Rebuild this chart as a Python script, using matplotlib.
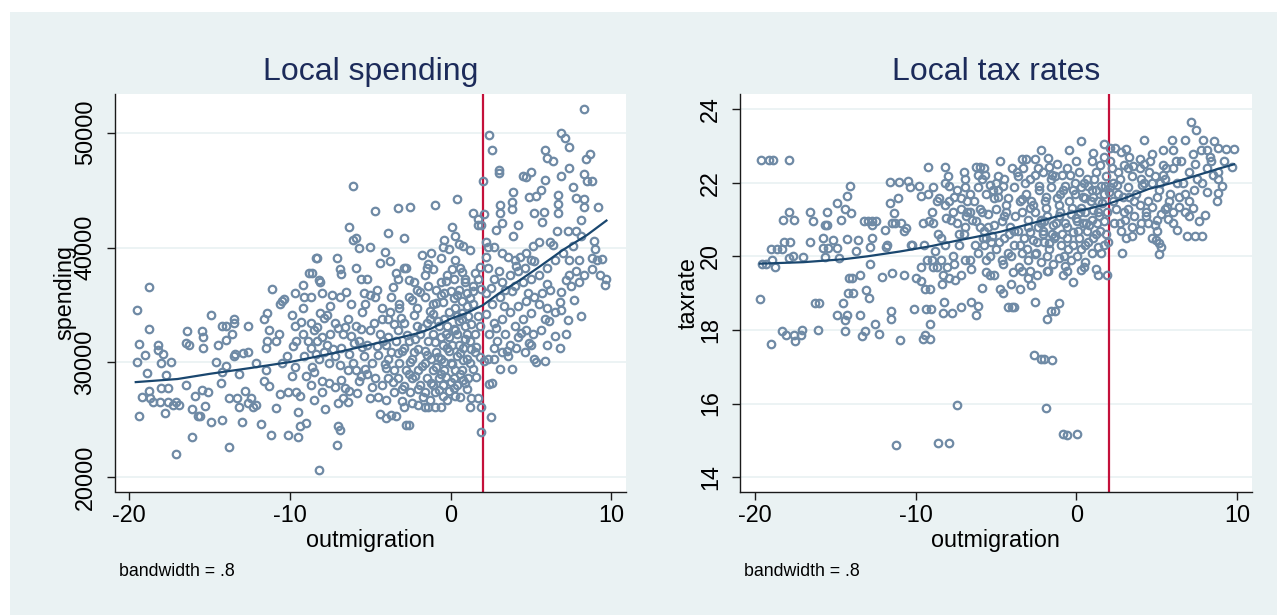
import numpy as np
import matplotlib
matplotlib.use("Agg")
import matplotlib.pyplot as plt
from matplotlib.patches import Rectangle

plt.rcParams['font.family'] = ['Liberation Sans', 'DejaVu Sans']

# ---------------------------------------------------------
# DATA
# ---------------------------------------------------------
# Local spending: (outmigration, spending)
spend_far_left = [
    (-19.5, 34570), (-18.8, 36560), (-19.4, 31600), (-19.5, 30030), (-19.0, 30640),
    (-18.9, 29040), (-18.8, 32910), (-18.2, 31470), (-18.2, 31120), (-17.9, 30740),
    (-18.0, 29940), (-17.7, 28920), (-17.4, 30030), (-19.2, 26990), (-18.8, 27540),
    (-18.7, 26900), (-18.5, 26580), (-18.0, 27760), (-17.6, 27760), (-18.1, 26580),
    (-17.6, 26580), (-17.3, 26330), (-17.8, 25620), (-19.4, 25300), (-17.1, 26580),
    (-16.9, 26330), (-17.1, 22010), (-16.5, 28020), (-16.4, 32720), (-16.5, 31700),
    (-16.3, 31540), (-16.1, 23540), (-16.1, 25940), (-15.9, 27060), (-15.7, 25360),
    (-15.6, 25300), (-15.5, 32720), (-15.4, 32180), (-15.4, 31280), (-15.5, 27600),
    (-15.3, 26170), (-15.1, 27380), (-14.9, 34090), (-14.9, 24820),
]
spend_mid_left = [
    (-14.5, 31470), (-14.6, 30030), (-14.3, 28240), (-14.2, 24980), (-14.2, 33140),
    (-14.0, 33200), (-14.0, 29680), (-14.2, 29140), (-14.0, 31920), (-13.8, 26900),
    (-13.8, 22650), (-13.5, 33780), (-13.5, 33450), (-13.5, 30580), (-13.4, 30740),
    (-13.6, 32500), (-13.3, 26900), (-13.2, 26100), (-13.0, 24820), (-13.2, 28980),
    (-12.9, 30800), (-12.6, 30900), (-12.6, 33200), (-12.8, 27540), (-12.6, 26420),
    (-12.4, 26900), (-12.3, 26100), (-12.1, 26330), (-12.1, 29940), (-11.8, 24660),
    (-11.6, 33780), (-11.5, 31220), (-11.4, 34260), (-11.3, 32810), (-11.4, 31860),
    (-11.5, 29300), (-11.6, 28340), (-11.3, 27960), (-11.1, 36400), (-11.2, 23640),
    (-10.9, 26010), (-10.9, 31860), (-10.7, 32500), (-10.6, 35050), (-10.5, 35370),
    (-10.4, 35530), (-10.6, 27220), (-10.5, 29940), (-10.2, 30580), (-10.1, 23700),
    (-9.9, 34090), (-10.1, 27380), (-9.9, 28820),
]
spend_mid = [
    (-9.7, 36010), (-9.7, 33140), (-9.5, 23540), (-9.5, 25720), (-9.6, 27380),
    (-9.4, 27060), (-9.2, 34730), (-9.2, 36750), (-9.1, 35690), (-9.0, 28820),
    (-9.0, 24760), (-9.4, 24500), (-8.8, 37770), (-8.6, 37770), (-8.7, 35690),
    (-8.4, 39110), (-8.3, 39110), (-8.2, 37200), (-8.1, 36970), (-8.0, 36010),
    (-8.2, 20600), (-8.0, 28340), (-7.8, 25940), (-7.7, 34090), (-7.5, 34890),
    (-7.2, 33450), (-7.1, 39050), (-7.1, 22810), (-7.0, 24440), (-6.9, 24120),
    (-6.9, 38090), (-6.8, 37680), (-6.7, 26900), (-6.4, 26580), (-6.3, 41830),
    (-6.1, 45380), (-6.1, 40650), (-5.9, 40810), (-5.7, 39940), (-5.6, 37290),
    (-5.4, 36010), (-5.0, 40070), (-6.1, 29940), (-5.9, 29300), (-5.7, 28340),
    (-6.3, 27540), (-8.7, 33450), (-8.5, 32810), (-8.3, 31860), (-8.0, 32180),
    (-7.7, 31540), (-7.5, 32500), (-8.7, 31220), (-9.1, 30580), (-8.2, 30260),
    (-7.6, 29940), (-7.2, 30580), (-6.8, 31220), (-6.7, 32500), (-6.4, 33780),
    (-6.2, 35050), (-5.9, 33140), (-5.7, 31860), (-5.4, 30580), (-6.4, 29300),
    (-6.8, 28500), (-7.2, 27860), (-7.6, 28180), (-8.0, 27380), (-8.5, 26740),
    (-8.7, 28020), (-8.5, 29140), (-6.9, 35690), (-5.9, 38250), (-5.2, 37290),
    (-5.3, 35050), (-5.0, 32810), (-5.2, 31540), (-4.9, 29940), (-5.2, 28980),
    (-4.9, 27860), (-5.0, 26900), (-9.6, 31860), (-9.7, 29620), (-9.2, 32500),
]
spend_core = [
    (-4.7, 43200), (-3.9, 41290), (-3.3, 43430), (-2.5, 43530), (-2.9, 40810),
    (-4.1, 39630), (-3.8, 38790), (-4.4, 38660), (-3.4, 37770), (-2.8, 38250),
    (-3.3, 37290), (-1.8, 39370), (-1.2, 39530), (-1.0, 43690), (-1.5, 38250),
    (-1.1, 38090), (-0.6, 39110), (-0.5, 40010), (-0.1, 39850), (0.1, 41770),
    (0.4, 44230), (0.3, 40970), (0.5, 40330), (0.8, 40170), (1.2, 39780),
    (0.3, 38890), (0.1, 38090), (0.6, 38250), (0.9, 37290), (-4.4, 25460),
    (-4.0, 25140), (-3.7, 25400), (-3.4, 25300), (-2.8, 24570), (-2.6, 24570),
    (-2.9, 26100), (-2.4, 26420), (-1.6, 26100), (-1.4, 26100), (-1.0, 26100),
    (-0.6, 26100), (-0.5, 27060), (-0.1, 27540), (0.2, 27760), (0.4, 28020),
    (0.9, 28180), (1.0, 27700), (1.2, 26100), (1.3, 26900), (1.7, 26900),
    (1.9, 23930), (-4.7, 35690), (-4.3, 34730), (-3.9, 33780), (-3.7, 35690),
    (-3.2, 35050), (-2.6, 35690), (-2.1, 34730), (-1.6, 35690), (-1.1, 35050),
    (-0.9, 36330), (-0.6, 36970), (-0.4, 36010), (-1.4, 36650), (-2.1, 36330),
    (-4.4, 32500), (-4.0, 31540), (-3.7, 30900), (-3.3, 32810), (-2.9, 33450),
    (-2.6, 31860), (-2.3, 30900), (-1.9, 32500), (-1.5, 33450), (-1.1, 32500),
    (-0.7, 33140), (-0.4, 33780), (-0.1, 34410), (0.3, 34730), (0.7, 35370),
    (1.0, 36010), (1.4, 36650), (1.7, 37290), (1.4, 35050), (0.7, 33780),
    (0.3, 32810), (-0.1, 32180), (-0.5, 31540), (-0.9, 30900), (-1.2, 30260),
    (-1.6, 29940), (-2.0, 29300), (-2.4, 28660), (-2.8, 29300), (-3.2, 29940),
    (-3.5, 29300), (-3.9, 28660), (-4.3, 28020), (-4.0, 26740), (-3.5, 27380),
    (-3.0, 27700), (-2.5, 27380), (-2.0, 27700), (-1.6, 27380), (-1.1, 28020),
    (-0.7, 28660), (-0.4, 29300), (0.0, 29940), (0.4, 30580), (0.8, 31220),
    (1.2, 31860), (1.5, 32500), (1.8, 33140), (1.5, 30900), (1.2, 29940),
    (0.7, 29300), (0.2, 28660), (-0.2, 31220), (-0.6, 30260), (-1.1, 29300),
    (-1.5, 28660), (-1.9, 28020), (-2.4, 30260), (-2.9, 31220), (-3.4, 31860),
    (-3.9, 30260), (0.4, 32500), (0.9, 33140), (0.5, 36330), (0.2, 37290),
    (-0.2, 37610), (1.7, 41930), (-0.4, 40650), (-1.4, 38570), (-2.3, 36970),
    (-2.9, 38250),
]
spend_dense = [
    (-8.9, 31900), (-8.4, 30700), (-7.9, 33900), (-7.3, 31200), (-6.9, 29800),
    (-6.6, 33100), (-6.0, 31700), (-5.6, 32900), (-5.3, 29400), (-5.8, 27300),
    (-4.8, 33400), (-4.5, 30600), (-4.2, 31900), (-4.0, 29500), (-3.8, 34400),
    (-3.6, 28300), (-3.3, 30800), (-3.1, 33900), (-2.9, 27900), (-2.7, 32400),
    (-2.5, 30000), (-2.3, 34100), (-2.2, 28800), (-2.0, 31200), (-1.8, 33000),
    (-1.7, 27000), (-1.5, 30600), (-1.3, 34500), (-1.2, 28200), (-1.0, 31800),
    (-0.9, 29600), (-0.8, 33600), (-0.7, 27600), (-0.6, 32200), (-0.5, 35300),
    (-0.4, 30000), (-0.3, 28700), (-0.2, 33200), (-0.1, 31000), (0.0, 36200),
    (0.1, 29900), (0.2, 32900), (0.3, 27100), (0.4, 35900), (0.5, 31500),
    (0.6, 29000), (0.7, 34300), (0.8, 30200), (0.9, 37000), (1.0, 32500),
    (1.1, 28600), (1.2, 35600), (1.3, 33300), (1.4, 29400), (1.5, 37800),
    (1.6, 31300), (1.7, 34000), (1.8, 30500), (1.9, 36400), (1.8, 38300),
    (2.2, 34200), (2.5, 36500), (2.8, 33000), (3.0, 38000), (3.3, 34900),
    (3.5, 31000), (3.8, 36200), (4.1, 38400), (4.4, 32600), (4.8, 36000),
    (5.2, 38800), (5.6, 32800), (6.0, 36800), (6.4, 40200), (6.8, 35300),
    (7.2, 37200), (7.7, 35400), (8.3, 37600), (8.9, 40600), (9.4, 39000),
    (-1.9, 36100), (-2.6, 37200), (-3.6, 36600), (-4.6, 36300), (-3.0, 26600),
    (-1.3, 26700), (0.6, 27000), (-4.5, 27000), (-6.3, 30700), (-7.0, 26500),
    (-1.1, 34200), (-0.6, 35900), (0.2, 35600), (1.0, 34900), (-2.4, 35400),
    (-3.2, 34700), (-0.3, 37100), (0.7, 37900), (-1.6, 37600), (-2.1, 33200),
    (-3.9, 32200), (-4.3, 33800), (-5.0, 35900), (-5.5, 34400), (-6.5, 36100),
    (-7.4, 35900), (-8.1, 34300), (-9.3, 33500), (-9.8, 31400), (-8.6, 29600),
]
spend_blob = [
    (-1.8, 29700), (-1.4, 31900), (-1.0, 27400), (-0.8, 30500), (-0.5, 28000),
    (-0.3, 32500), (0.0, 28300), (0.1, 31500), (0.3, 29300), (0.5, 33600),
    (0.6, 30800), (0.8, 28500), (1.0, 30300), (1.1, 34000), (1.3, 31200),
    (-2.6, 29000), (-2.2, 32000), (-3.0, 31000), (-3.5, 33300), (-4.1, 29900),
    (-4.6, 31400), (-5.5, 31300), (-6.2, 32300), (-7.0, 33000), (-7.9, 30900),
    (-8.3, 33100), (-6.6, 27800), (-5.6, 28800), (-4.7, 28600), (-3.3, 28600),
    (-1.6, 31000), (-0.6, 29000), (0.4, 34000), (1.6, 28700), (-0.2, 26700),
    (-2.0, 26300), (-1.3, 33800), (0.9, 32000), (-0.9, 35200), (1.4, 36200),
]
spend_right = [
    (2.0, 45760), (2.4, 49760), (2.6, 48480), (3.0, 46720), (3.0, 46500),
    (2.1, 42890), (1.7, 42500), (1.9, 41990), (1.4, 43050), (3.1, 43690),
    (3.1, 43050), (3.2, 42180), (2.8, 41540), (3.9, 44800), (3.8, 44000),
    (3.8, 43370), (4.2, 41930), (3.9, 41030), (4.5, 46240), (4.7, 46180),
    (5.0, 46560), (4.9, 44420), (5.2, 43050), (5.7, 42250), (5.3, 44490),
    (5.6, 45030), (5.8, 43140), (5.9, 48480), (6.0, 47780), (6.4, 47520),
    (5.9, 45920), (6.9, 49990), (7.1, 49500), (7.4, 48740), (7.4, 46950),
    (6.9, 46240), (7.6, 45280), (7.8, 44320), (8.3, 52090), (8.7, 48160),
    (8.4, 47750), (8.3, 46400), (8.5, 45760), (8.8, 45820), (8.3, 44260),
    (8.3, 43530), (9.2, 43530), (8.1, 42410), (7.8, 41450), (8.1, 40970),
    (6.7, 44580), (6.7, 43750), (6.7, 43050), (6.6, 41450), (6.2, 40490),
    (7.3, 41450), (2.2, 40490), (2.3, 40010), (2.7, 40010), (3.2, 39530),
    (3.6, 39210), (4.0, 38890), (4.3, 39210), (4.7, 39530), (5.1, 40170),
    (5.5, 40490), (5.0, 38890), (4.6, 38250), (4.2, 37930), (3.7, 37610),
    (3.2, 36970), (2.7, 37290), (2.3, 38250), (2.2, 36010), (2.6, 35050),
    (3.1, 35690), (3.4, 36330), (4.0, 36650), (4.5, 36970), (5.0, 37290),
    (5.5, 37610), (6.0, 38250), (6.5, 38890), (7.0, 39530), (7.4, 38890),
    (7.6, 40170), (8.0, 38890), (7.8, 37930), (7.4, 37610), (8.8, 39050),
    (9.0, 39850), (9.1, 38890), (8.8, 38090), (9.3, 37610), (9.7, 37230),
    (9.6, 36710), (8.0, 36970), (7.5, 36650), (6.9, 36170), (6.2, 36330),
    (5.7, 36010), (5.2, 35690), (4.7, 35370), (4.2, 34890), (3.7, 34410),
    (3.2, 33780), (2.7, 33450), (2.4, 32500), (2.9, 31860), (3.4, 32500),
    (4.0, 33140), (4.5, 33780), (5.0, 34260), (5.5, 35050), (6.0, 34730),
    (6.5, 34410), (6.9, 34570), (7.3, 33680), (8.1, 34030), (6.1, 33620),
    (5.9, 33780), (5.1, 32500), (4.7, 32810), (4.2, 32180), (3.7, 31540),
    (3.2, 30900), (2.7, 31220), (2.3, 30260), (2.1, 30100), (2.6, 28180),
    (2.4, 28120), (2.7, 30260), (3.1, 29460), (3.8, 29390), (3.6, 30580),
    (4.1, 31220), (4.6, 30900), (5.0, 31540), (4.9, 31700), (5.2, 30260),
    (5.3, 30000), (5.9, 30100), (6.0, 31540), (6.5, 32340), (6.8, 31280),
    (7.2, 32500), (2.5, 25210), (1.9, 26100), (2.2, 39210),
]

# lowess fit (bandwidth .8) of spending
spend_fit_x = [-19.6, -17, -15, -12.5, -10, -7.3, -4.5, -2, -1.2, 0, 1, 2, 3, 4.3, 5.5, 7, 8.5, 9.7]
spend_fit_y = [28280, 28550, 29000, 29500, 30030, 30800, 31700, 32550, 32950, 33800,
               34300, 34970, 36000, 37150, 38300, 39800, 41100, 42350]

# Local tax rates: (outmigration, taxrate)
tax_left = [
    (-19.64, 22.62), (-19.10, 22.62), (-18.85, 22.62), (-17.91, 22.62), (-19.66, 18.83),
    (-19.00, 17.61), (-19.56, 19.80), (-19.31, 19.78), (-18.75, 19.72), (-18.93, 19.90),
    (-19.00, 20.20), (-18.63, 20.20), (-18.29, 20.20), (-18.17, 20.38), (-17.79, 20.38),
    (-18.24, 20.98), (-17.89, 21.20), (-17.58, 20.98), (-17.91, 19.95), (-17.66, 20.00),
    (-17.03, 19.97), (-18.29, 17.96), (-18.04, 17.86), (-17.58, 17.86), (-17.53, 17.69),
    (-17.16, 17.86), (-17.10, 18.00), (-16.57, 21.20), (-16.40, 20.97), (-16.57, 20.38),
    (-16.27, 18.73), (-16.02, 18.73), (-16.07, 17.99), (-15.76, 20.50), (-15.64, 20.85),
    (-15.51, 20.85), (-15.51, 21.20), (-15.76, 20.22), (-15.46, 20.22), (-15.64, 19.98),
    (-15.13, 20.45), (-14.88, 21.44), (-14.88, 20.22), (-14.75, 19.95), (-14.62, 21.00),
    (-14.37, 21.29), (-14.88, 18.41), (-14.50, 18.73), (-14.37, 18.26), (-14.25, 18.41),
    (-14.37, 17.98), (-14.25, 20.47), (-14.07, 21.91), (-14.25, 21.64), (-14.00, 21.18),
    (-14.12, 19.40), (-13.94, 19.42), (-14.20, 19.00), (-13.87, 19.00), (-13.74, 20.15),
    (-13.61, 20.45), (-13.49, 19.50), (-13.44, 18.41), (-13.36, 17.83), (-13.16, 17.96),
    (-13.11, 19.08), (-12.93, 18.87), (-13.23, 20.97), (-12.98, 20.97), (-12.73, 20.97),
    (-12.48, 20.97), (-12.73, 20.50), (-12.73, 20.85), (-12.85, 19.78), (-12.85, 20.25),
    (-12.52, 18.16), (-12.27, 17.88), (-12.09, 19.45), (-11.89, 20.72), (-11.84, 20.25),
    (-11.77, 20.32), (-11.59, 21.46), (-11.59, 22.02), (-11.51, 18.31), (-11.51, 18.51),
    (-11.46, 19.55), (-11.46, 20.90), (-11.34, 21.17), (-11.26, 20.90), (-11.21, 14.87),
    (-11.08, 21.59), (-11.01, 22.02), (-10.96, 17.73), (-10.90, 20.90), (-10.75, 20.70),
    (-10.70, 19.50), (-10.58, 20.77), (-10.45, 22.04), (-10.37, 21.89), (-10.32, 20.30),
    (-10.20, 20.30), (-10.12, 18.58), (-9.99, 19.40),
]
tax_mid = [
    (-9.82, 21.91), (-9.69, 21.64), (-9.69, 19.32), (-9.56, 20.90), (-9.56, 17.76),
    (-9.44, 19.12), (-9.44, 17.86), (-9.36, 18.58), (-9.24, 22.42), (-9.24, 21.69),
    (-9.18, 20.97), (-9.13, 19.12), (-9.11, 17.76), (-9.11, 18.16), (-9.06, 18.58),
    (-8.98, 19.90), (-8.93, 19.70), (-8.68, 21.49), (-8.43, 20.50), (-8.37, 19.25),
    (-8.30, 18.46), (-8.22, 18.75), (-8.17, 22.42), (-8.12, 21.05), (-7.97, 22.19),
    (-7.92, 21.91), (-8.60, 14.92), (-7.92, 14.92), (-7.72, 18.46), (-7.46, 15.95),
    (-7.16, 18.61), (-6.91, 22.11), (-6.78, 21.20), (-6.53, 18.75), (-6.27, 18.41),
    (-6.15, 18.64), (-6.27, 22.44), (-6.02, 22.44), (-5.77, 22.41), (-5.90, 19.15),
    (-5.64, 19.58), (-5.39, 19.50), (-5.14, 19.50), (-4.76, 22.59), (-4.88, 22.19),
    (-4.76, 19.10), (-4.58, 19.00), (-4.25, 18.61), (-4.00, 18.61), (-3.87, 18.61),
    (-4.05, 19.25), (-3.92, 19.58), (-3.49, 19.10), (-3.37, 19.60), (-3.37, 22.64),
    (-3.11, 22.64), (-2.86, 19.60), (-2.81, 19.22), (-2.66, 17.31), (-2.60, 18.75),
    (-2.60, 22.64), (-2.23, 22.89), (-2.23, 17.21), (-2.02, 17.21), (-1.92, 15.89),
    (-1.85, 18.31), (-1.77, 22.67), (-1.59, 18.51), (-1.54, 17.19), (-1.34, 18.51),
    (-1.09, 18.73), (-0.83, 15.17), (-0.58, 15.14), (0.05, 15.17), (-0.20, 19.30),
    (0.30, 19.63), (-0.45, 22.89), (0.30, 23.14), (0.55, 19.85), (1.19, 19.65),
    (1.32, 19.50), (1.70, 23.04), (1.70, 22.71), (1.90, 19.50), (1.95, 20.38),
    (-7.41, 21.79), (-7.16, 21.59), (-6.91, 21.89), (-6.65, 21.69), (-6.40, 21.49),
    (-6.15, 21.89), (-5.90, 22.09), (-5.64, 21.69), (-5.39, 21.94), (-5.14, 21.59),
    (-4.88, 21.79), (-4.50, 22.09), (-4.25, 21.59), (-7.16, 21.29), (-6.65, 21.20),
    (-6.02, 21.29), (-5.51, 21.15), (-5.01, 21.29), (-4.38, 21.20), (-7.41, 20.90),
    (-6.91, 20.80), (-6.27, 20.95), (-5.77, 20.70), (-5.14, 20.85), (-4.63, 20.95),
    (-4.12, 20.80), (-7.92, 21.49), (-7.67, 21.20), (-8.17, 21.39), (-8.55, 21.59),
    (-8.93, 21.89), (-8.80, 20.15), (-8.43, 19.90), (-8.05, 19.70), (-7.67, 20.00),
    (-7.29, 20.30), (-6.91, 19.90), (-6.53, 19.65), (-6.15, 20.10), (-5.77, 20.30),
    (-5.39, 20.00), (-5.01, 20.20), (-4.63, 19.90), (-4.25, 20.10), (-3.87, 20.30),
    (-7.92, 19.40), (-7.54, 19.35), (-7.16, 19.50), (-8.68, 19.70), (-8.30, 19.50),
    (-9.31, 19.90), (-9.69, 19.70), (-5.64, 20.50), (-5.26, 20.55), (-4.50, 20.50),
]
tax_core = [
    (-3.87, 21.89), (-3.49, 21.49), (-3.11, 21.69), (-2.73, 21.39), (-2.35, 21.79),
    (-1.97, 21.49), (-1.59, 21.89), (-1.21, 21.59), (-0.83, 21.79), (-0.45, 21.49),
    (-0.08, 21.69), (0.30, 21.89), (-3.62, 22.19), (-2.86, 22.09), (-2.10, 22.29),
    (-1.34, 22.19), (-0.58, 22.39), (0.18, 22.29), (-1.72, 22.44), (-3.37, 21.20),
    (-2.99, 20.99), (-2.60, 21.20), (-2.23, 20.90), (-1.85, 21.10), (-1.47, 20.85),
    (-1.09, 21.10), (-0.71, 20.90), (-0.33, 21.15), (0.05, 20.95), (-3.62, 20.70),
    (-3.24, 20.50), (-2.86, 20.65), (-2.48, 20.40), (-2.10, 20.60), (-1.72, 20.35),
    (-1.34, 20.55), (-0.96, 20.30), (-0.58, 20.50), (-0.20, 20.30), (0.18, 20.50),
    (-3.37, 20.10), (-2.99, 19.90), (-2.60, 20.05), (-2.23, 19.85), (-1.85, 20.00),
    (-1.47, 19.80), (-1.09, 19.95), (-0.71, 19.75), (-0.33, 19.90), (0.05, 20.00),
    (-2.48, 19.50), (-1.85, 19.60), (-0.83, 19.50), (0.56, 21.59), (0.94, 21.79),
    (1.32, 21.49), (1.70, 21.69), (2.07, 21.89), (0.68, 22.09), (1.19, 22.29),
    (1.83, 22.19), (2.20, 22.39), (0.94, 22.59), (1.45, 22.49), (0.56, 21.20),
    (0.94, 20.99), (1.32, 21.20), (1.70, 20.95), (0.68, 20.70), (1.06, 20.50),
    (1.45, 20.70), (1.83, 20.60), (0.56, 20.30), (0.94, 20.10), (1.32, 20.25),
    (0.43, 20.90), (2.45, 21.29), (2.33, 20.90), (2.58, 21.69), (2.71, 22.09),
]
tax_dense = [
    (-7.8, 21.0), (-7.3, 20.6), (-6.8, 21.5), (-6.3, 20.3), (-5.9, 21.2),
    (-5.5, 20.8), (-5.2, 21.8), (-4.8, 20.4), (-4.4, 21.4), (-4.1, 20.0),
    (-3.8, 21.1), (-3.5, 20.3), (-3.2, 22.0), (-3.0, 20.8), (-2.8, 21.5),
    (-2.5, 20.1), (-2.3, 21.9), (-2.1, 20.7), (-1.9, 21.3), (-1.7, 20.2),
    (-1.5, 22.2), (-1.3, 20.9), (-1.1, 21.4), (-0.9, 20.6), (-0.7, 21.9),
    (-0.5, 20.2), (-0.3, 21.3), (-0.1, 22.0), (0.1, 20.7), (0.3, 21.3),
    (0.5, 22.0), (0.7, 20.4), (0.9, 21.5), (1.1, 22.1), (1.3, 20.9),
    (1.5, 21.9), (1.7, 20.3), (1.9, 21.2), (2.1, 22.6), (2.3, 21.5),
    (2.6, 22.3), (2.9, 21.6), (3.3, 22.7), (3.6, 21.5), (4.0, 22.1),
    (4.3, 21.1), (4.7, 22.0), (5.0, 21.6), (5.4, 22.2), (5.8, 21.7),
    (6.2, 22.6), (6.6, 22.0), (7.0, 21.5), (7.4, 22.5), (7.8, 22.0),
    (8.3, 22.7), (8.8, 22.3), (9.2, 22.6), (-9.5, 20.3), (-9.0, 21.2),
    (-8.6, 20.6), (-8.2, 22.0), (-7.6, 19.8), (-7.0, 22.3), (-6.6, 19.9),
    (-6.1, 22.2), (-5.6, 19.9), (-5.0, 22.0), (-4.6, 19.8), (-4.0, 22.4),
    (-3.6, 19.7), (-3.0, 19.4), (-2.4, 22.4), (-1.8, 19.6), (-1.2, 22.5),
    (-0.6, 19.6), (0.0, 22.6), (0.5, 19.7), (1.0, 22.8), (1.5, 20.1),
    (-2.0, 20.95), (-1.0, 21.7), (0.0, 21.05), (1.0, 21.25), (2.0, 21.75),
    (3.0, 21.0), (4.0, 20.9), (5.0, 21.0), (6.0, 20.9), (7.0, 21.1),
    (-3.4, 21.55), (-2.7, 20.45), (-1.4, 20.5), (-0.2, 20.65), (0.8, 20.85),
    (1.6, 21.45), (2.5, 21.95), (3.5, 22.45), (4.5, 22.3), (5.6, 22.4),
    (-6.5, 21.0), (-5.8, 20.5), (-4.9, 21.6), (-4.2, 20.6), (-3.7, 22.3),
    (-2.2, 21.0), (-0.9, 22.2), (0.4, 21.6), (1.2, 21.8), (2.8, 20.7),
]
tax_blob = [
    (-2.9, 21.3), (-2.4, 20.8), (-1.9, 21.6), (-1.5, 20.6), (-1.0, 21.2),
    (-0.6, 20.8), (-0.2, 21.8), (0.2, 21.2), (0.6, 20.9), (1.0, 21.6),
    (1.4, 21.1), (1.8, 21.9), (-3.9, 20.7), (-4.5, 21.1), (-5.3, 20.4),
    (-6.0, 20.8), (-6.9, 21.1), (-7.6, 21.6), (-3.1, 20.2), (-2.0, 20.4),
    (-0.8, 20.0), (0.3, 20.2), (1.2, 20.6), (2.3, 22.0), (3.3, 21.6),
    (4.2, 22.5), (5.2, 22.0), (6.4, 21.6), (7.3, 21.8), (8.5, 22.2),
    (-5.7, 22.2), (-4.6, 21.9), (-3.3, 22.4), (-2.6, 22.2), (-1.6, 22.1),
    (-0.4, 22.2), (0.7, 21.9), (-8.9, 20.9), (-8.2, 20.3), (-7.0, 20.6),
]
tax_right = [
    (2.07, 22.94), (2.40, 22.94), (2.76, 22.84), (3.09, 22.92), (2.83, 20.10),
    (4.22, 23.17), (5.95, 23.17), (6.76, 23.17), (7.13, 23.64), (7.46, 23.44),
    (7.90, 23.17), (8.53, 23.14), (9.29, 22.91), (9.79, 22.91), (9.67, 22.42),
    (8.78, 22.11), (9.03, 21.91), (8.78, 21.71), (8.73, 21.51), (8.10, 21.74),
    (8.02, 21.12), (7.64, 20.97), (7.26, 21.31), (6.88, 20.55), (7.39, 20.55),
    (7.82, 20.55), (6.25, 20.72), (5.69, 21.02), (5.11, 20.05), (5.24, 20.25),
    (4.93, 20.45), (4.99, 20.70), (4.86, 20.85), (3.97, 20.72), (3.47, 20.55),
    (3.09, 20.50), (2.96, 22.49), (3.21, 21.89), (3.47, 22.19), (3.72, 21.69),
    (3.97, 22.39), (4.22, 21.99), (4.48, 21.49), (4.60, 22.59), (4.86, 22.19),
    (5.11, 21.79), (5.36, 22.49), (5.49, 22.09), (5.75, 21.49), (6.00, 22.39),
    (6.25, 21.99), (6.50, 22.59), (6.76, 21.69), (7.01, 22.29), (7.26, 22.79),
    (7.52, 22.09), (7.77, 22.89), (8.15, 22.89), (8.40, 22.59), (8.78, 22.94),
    (8.15, 22.39), (3.21, 21.29), (3.59, 21.10), (3.97, 21.39), (4.35, 21.20),
    (4.73, 21.34), (5.24, 21.15), (5.62, 21.34), (6.00, 21.20), (6.38, 21.34),
    (6.76, 21.20), (3.47, 20.80), (4.48, 20.90), (4.73, 20.50), (5.11, 20.35),
    (5.49, 21.29), (2.71, 20.90), (2.96, 21.20), (4.10, 21.94), (6.00, 22.89),
    (5.36, 22.89), (4.73, 22.79), (3.97, 22.64), (3.21, 22.39),
]

# lowess fit (bandwidth .8) of taxrate
tax_fit_x = [-19.7, -17, -14.5, -13, -11, -9, -7.5, -6, -4.7, -3, -1.5, 0, 1, 2, 3, 4.5, 6, 7.5, 9, 9.8]
tax_fit_y = [19.80, 19.84, 19.92, 20.00, 20.13, 20.28, 20.42, 20.55, 20.67, 20.87,
             21.05, 21.22, 21.32, 21.43, 21.58, 21.83, 22.00, 22.20, 22.40, 22.50]

cutoff = 2

# ---------------------------------------------------------
# STYLE
# ---------------------------------------------------------
bg = '#EAF2F3'
marker_col = '#6F8AA5'
fit_col = '#1A476F'
line_red = '#C4103A'
title_col = '#1C2B5A'
W, H = 1277, 615

fig = plt.figure(figsize=(W / 100, H / 100), dpi=100, facecolor='white')
fig.patches.append(Rectangle((10 / W, 0), 1, 1 - 12 / H, transform=fig.transFigure,
                             facecolor=bg, edgecolor='none', zorder=-10))


def panel(left_px, xlim, ylim, yticks, pts, fit_x, fit_y, title, ylabel, ylabel_x):
    right_px = left_px + 511.5
    ax = fig.add_axes([left_px / W, 1 - 491.5 / H, (right_px - left_px) / W, (491.5 - 94) / H])
    ax.set_facecolor('white')
    for s in ['top', 'right']:
        ax.spines[s].set_visible(False)
    for s in ['left', 'bottom']:
        ax.spines[s].set_linewidth(1.0)
        ax.spines[s].set_color('#1a1a1a')

    for yt in yticks:
        ax.axhline(yt, color=bg, lw=1.3, zorder=0)
    ax.axvline(cutoff, color=line_red, lw=1.6, zorder=1)

    xs = [p[0] for p in pts]
    ys = [p[1] for p in pts]
    ax.plot(xs, ys, 'o', ms=5.4, mfc='none', mec=marker_col, mew=1.6, zorder=2, clip_on=False)
    ax.plot(fit_x, fit_y, color=fit_col, lw=1.6, zorder=3)

    ax.set_xlim(*xlim)
    ax.set_ylim(*ylim)
    ax.set_xticks([-20, -10, 0, 10])
    ax.set_xticklabels(['-20', '-10', '0', '10'])
    ax.set_yticks(yticks)
    ax.set_yticklabels([str(v) for v in yticks])
    ax.tick_params(axis='both', direction='out', length=6, width=1.0, color='#1a1a1a',
                   labelsize=16.8, labelcolor='black')
    ax.tick_params(axis='x', pad=3)
    ax.tick_params(axis='y', pad=7, labelrotation=90)
    for lab in ax.get_yticklabels():
        lab.set_va('center')

    cx = (left_px + right_px) / 2
    fig.text(cx / W, 1 - 72 / H, title, ha='center', va='center', fontsize=23, color=title_col)
    fig.text(cx / W, 1 - 540.5 / H, 'outmigration', ha='center', va='center', fontsize=16.8)
    fig.text(ylabel_x / W, 1 - 293 / H, ylabel, ha='center', va='center', rotation=90, fontsize=16.8)
    fig.text((left_px + 4.5) / W, 1 - 572 / H, 'bandwidth = .8', ha='left', va='center', fontsize=12.8)
    return ax


spend_pts = (spend_far_left + spend_mid_left + spend_mid + spend_core
             + spend_dense + spend_blob + spend_right)
tax_pts = tax_left + tax_mid + tax_core + tax_dense + tax_blob + tax_right

panel(114.7, (-20.91, 10.93), (18753, 53374), [20000, 30000, 40000, 50000],
      spend_pts, spend_fit_x, spend_fit_y, 'Local spending', 'spending', 64.5)
panel(740, (-20.93, 10.89), (13.61, 24.41), [14, 16, 18, 20, 22, 24],
      tax_pts, tax_fit_x, tax_fit_y, 'Local tax rates', 'taxrate', 688)

fig.savefig('out.png', dpi=100, facecolor=fig.get_facecolor())
